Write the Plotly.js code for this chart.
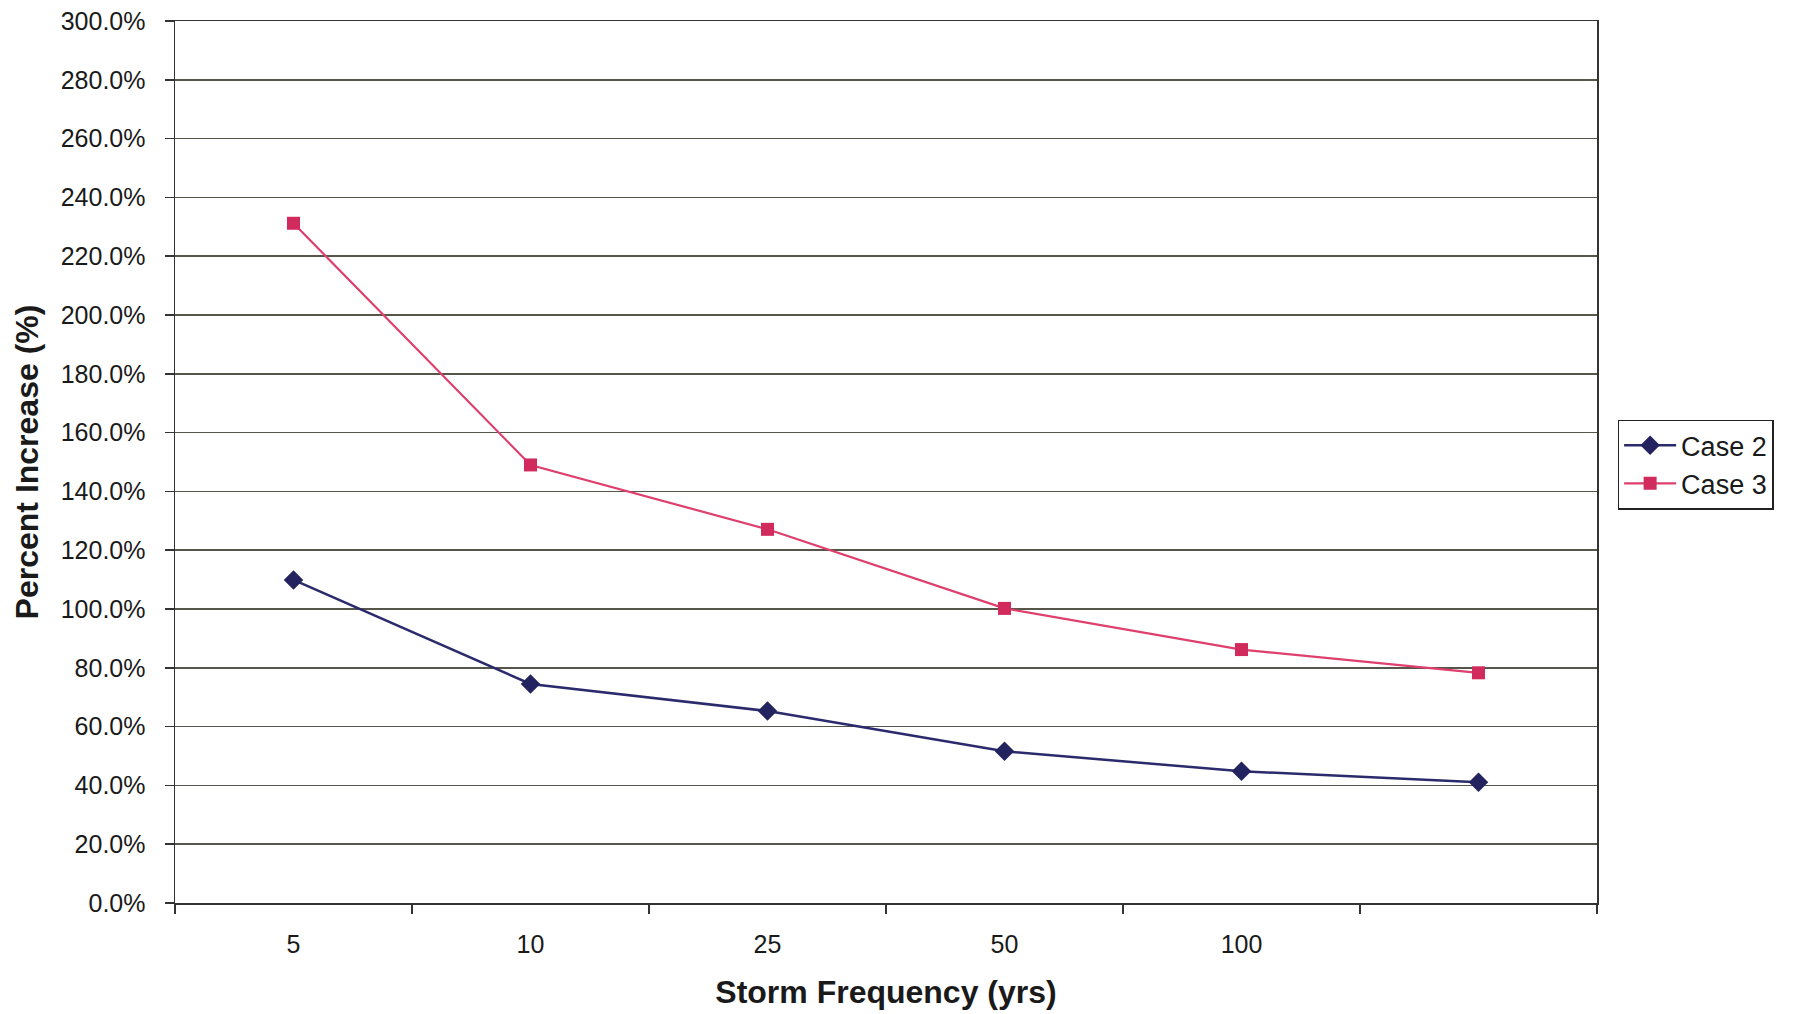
<!DOCTYPE html>
<html>
<head>
<meta charset="utf-8">
<script src="https://cdn.plot.ly/plotly-3.0.1.min.js"></script>
<style>
  html, body { margin: 0; padding: 0; background: #ffffff; }
  #chart { width: 1794px; height: 1014px; }
</style>
</head>
<body>
<div id="chart"></div>
<script>
// Storm frequency categories (the 6th category has no label in the original)
var categories = ['5', '10', '25', '50', '100', ' '];
// Percent increase values (fractions)
var case2 = [1.099, 0.745, 0.653, 0.516, 0.448, 0.411];
var case3 = [2.312, 1.490, 1.271, 1.002, 0.862, 0.783];
var seriesNames = ['Case 2', 'Case 3'];

var fontFamily = '"Liberation Sans", Arial, sans-serif';

var traces = [
  {
    x: categories, y: case2, name: seriesNames[0],
    type: 'scatter', mode: 'lines+markers',
    line: { color: '#2a2a6c', width: 2.5 },
    marker: { symbol: 'diamond', size: 15, color: '#23235f' }
  },
  {
    x: categories, y: case3, name: seriesNames[1],
    type: 'scatter', mode: 'lines+markers',
    line: { color: '#de3f6c', width: 2.2 },
    marker: { symbol: 'square', size: 13, color: '#d12a5c' }
  }
];

var layout = {
  width: 1794, height: 1014,
  paper_bgcolor: '#ffffff', plot_bgcolor: '#ffffff',
  margin: { l: 175, r: 197, t: 21, b: 111 },
  font: { family: fontFamily, color: '#1a1a1a', size: 25 },
  showlegend: true,
  legend: {
    x: 1.0145, y: 0.548, xanchor: 'left', yanchor: 'top',
    bordercolor: '#222', borderwidth: 1.5, bgcolor: '#ffffff',
    font: { family: fontFamily, size: 27, color: '#1a1a1a' },
    itemwidth: 52, tracegroupgap: 4
  },
  xaxis: {
    type: 'category',
    categoryorder: 'array', categoryarray: categories,
    range: [-0.5, 5.5],
    tickson: 'boundaries',
    ticks: 'outside', ticklen: 9, tickwidth: 1.5, tickcolor: '#333',
    ticklabelstandoff: 18,
    showline: true, linecolor: '#333', linewidth: 1.5, mirror: true,
    showgrid: false, zeroline: false,
    tickfont: { family: fontFamily, size: 25, color: '#1a1a1a' },
    title: { text: '<b>Storm Frequency (yrs)</b>', font: { family: fontFamily, size: 32, color: '#1a1a1a' }, standoff: 24 }
  },
  yaxis: {
    range: [0, 3.0],
    tick0: 0, dtick: 0.2,
    tickformat: '.1%',
    ticks: 'outside', ticklen: 9, tickwidth: 1.5, tickcolor: '#333',
    ticklabelstandoff: 14,
    showline: true, linecolor: '#333', linewidth: 1.5, mirror: true,
    showgrid: true, gridcolor: '#55554a', gridwidth: 1.5,
    zeroline: false,
    tickfont: { family: fontFamily, size: 25, color: '#1a1a1a' },
    title: { text: '<b>Percent Increase (%)</b>', font: { family: fontFamily, size: 32, color: '#1a1a1a' }, standoff: 12 }
  }
};

Plotly.newPlot('chart', traces, layout, { displayModeBar: false, staticPlot: true });
</script>
</body>
</html>
